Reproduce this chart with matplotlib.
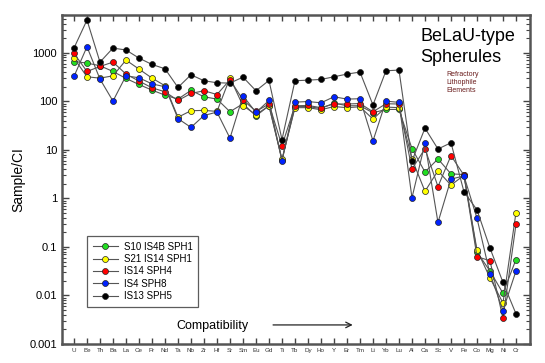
import numpy as np
import matplotlib
matplotlib.use("Agg")
from matplotlib import pyplot as plt
from matplotlib.ticker import LogLocator, NullFormatter, FixedLocator

plt.rcParams['font.family'] = ['Liberation Sans', 'DejaVu Sans']

elements = ["U", "Be", "Th", "Ba", "La", "Ce", "Pr", "Nd", "Ta", "Nb", "Zr", "Hf",
            "Sr", "Sm", "Eu", "Gd", "Ti", "Tb", "Dy", "Ho", "Y", "Er", "Tm", "Li",
            "Yb", "Lu", "Al", "Ca", "Sc", "V", "Fe", "Co", "Mg", "Ni", "Cr"]

s10_is4b_sph1 = [660, 613, 540, 412, 296, 222, 170, 134, 111, 168, 124, 111,
                 61, 89, 50, 81, 6.2, 78, 78, 71, 92, 81, 81, 58,
                 68, 68, 10.6, 3.5, 6.5, 3.2, 3.1, 0.078, 0.032, 0.0111, 0.055]
s21_is14_sph1 = [777, 320, 300, 335, 707, 461, 301, 209, 47, 64, 65, 62,
                 305, 81, 53, 81, 6.4, 74, 74, 67, 78, 74, 77, 43,
                 76, 74, 6.5, 1.4, 3.7, 1.87, 3.0, 0.087, 0.023, 0.0070, 0.51]
is14_sph4 = [970, 412, 522, 642, 364, 261, 190, 157, 104, 145, 165, 138,
             278, 107, 62, 88, 12.2, 81, 82, 74, 88, 88, 90, 61,
             89, 88, 4.0, 10.6, 1.75, 7.6, 3.0, 0.063, 0.052, 0.0034, 0.29]
is4_sph8 = [325, 1330, 287, 101, 335, 305, 229, 199, 44, 29, 51, 60,
            17.4, 130, 59, 104, 5.9, 96, 99, 93, 124, 111, 113, 15.3,
            101, 95, 1.03, 13.7, 0.32, 2.5, 2.9, 0.39, 0.028, 0.0049, 0.032]
is13_sph5 = [1250, 4720, 642, 1250, 1140, 777, 574, 468, 193, 352, 265, 241,
             237, 315, 165, 269, 16.3, 265, 273, 282, 320, 364, 400, 84,
             425, 440, 5.9, 28, 10.4, 14, 1.37, 0.58, 0.095, 0.0186, 0.0042]

series = [("S10 IS4B SPH1", s10_is4b_sph1, "#22dd22"),
          ("S21 IS14 SPH1", s21_is14_sph1, "#ffff00"),
          ("IS14 SPH4", is14_sph4, "#ff0000"),
          ("IS4 SPH8", is4_sph8, "#0022ff"),
          ("IS13 SPH5", is13_sph5, "#000000")]

fig = plt.figure(figsize=(5.45, 3.63), dpi=100)
ax = fig.add_axes([0.1138, 0.0523, 0.8587, 0.9064])

x = np.arange(len(elements))
for name, vals, col in series:
    ax.plot(x, vals, color="#555555", lw=0.8, marker="o", ms=4.3,
            mfc=col, mec="#222222", mew=0.5, label=name)

ax.set_yscale("log")
ax.set_ylim(0.001, 6000)
ax.set_xlim(-0.92, len(elements) - 1 + 1.08)

ax.xaxis.set_major_locator(FixedLocator(x))
ax.set_xticklabels(elements, fontsize=4.5, color="#333333")
ax.tick_params(axis="x", which="major", direction="in", length=4, width=1,
               top=True, bottom=True, pad=3, color="#444444")
ax.yaxis.set_minor_locator(LogLocator(base=10, subs=np.arange(2, 10), numticks=10))
ax.yaxis.set_minor_formatter(NullFormatter())
ax.set_yticks([0.001, 0.01, 0.1, 1, 10, 100, 1000])
ax.set_yticklabels(["0.001", "0.01", "0.1", "1", "10", "100", "1000"], fontsize=8)
ax.tick_params(axis="y", which="major", direction="in", length=5, width=1,
               left=True, right=True, color="#444444")
ax.tick_params(axis="y", which="minor", direction="in", length=3, width=0.8,
               left=True, right=True, color="#444444")
for sp in ax.spines.values():
    sp.set_color("#555555")
    sp.set_linewidth(1.8)

ax.set_ylabel("Sample/CI", fontsize=10, labelpad=3)

ax.text(0.766, 0.96, "BeLaU-type\nSpherules", transform=ax.transAxes,
        fontsize=13, va="top", ha="left", linespacing=1.3)
ax.text(0.822, 0.83, "Refractory\nLithophile\nElements", transform=ax.transAxes,
        fontsize=5, va="top", ha="left", color="#6b1e1e", linespacing=1.2)

ax.text(0.245, 0.055, "Compatibility", transform=ax.transAxes, fontsize=9,
        va="center", ha="left")
ax.annotate("", xy=(0.627, 0.058), xytext=(0.445, 0.058), xycoords="axes fraction",
            arrowprops=dict(arrowstyle="->", color="#222222", lw=0.9))

leg = ax.legend(loc="lower left", bbox_to_anchor=(0.053, 0.112), fontsize=7,
                frameon=True, fancybox=False, edgecolor="#333333",
                handlelength=2.6, handletextpad=0.6, labelspacing=0.25,
                borderpad=0.6, borderaxespad=0)
leg.get_frame().set_linewidth(0.9)

fig.savefig("out.png", dpi=100)
